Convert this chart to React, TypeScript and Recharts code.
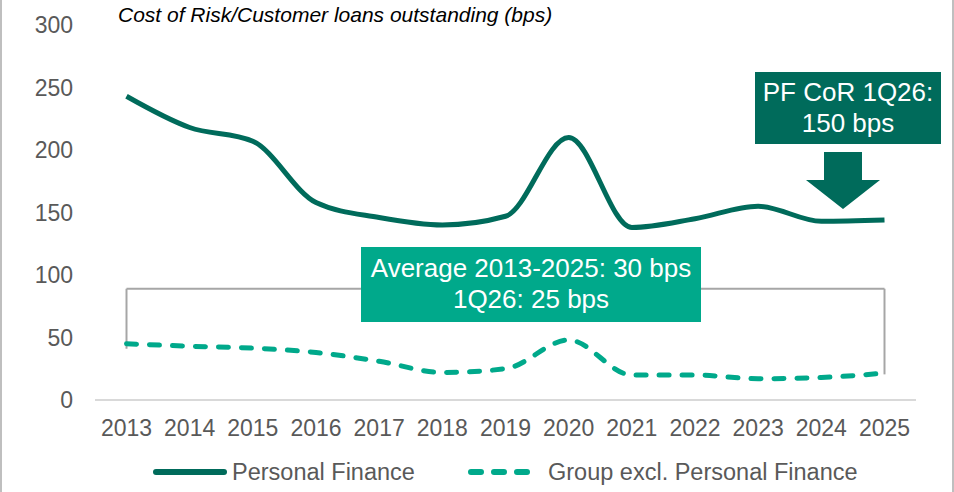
import React from 'react';
import { LineChart, Line, XAxis, YAxis, ReferenceLine, Legend } from 'recharts';

const years = ['2013', '2014', '2015', '2016', '2017', '2018', '2019', '2020', '2021', '2022', '2023', '2024', '2025'];
const personalFinance = [243, 218, 207, 158, 146, 140, 147, 210, 138, 145, 155, 143, 144];
const groupExclPF = [45, 43, 41.5, 38, 31, 22, 25, 48, 20, 20, 17, 18, 21.5];
const yTicks = [0, 50, 100, 150, 200, 250, 300];
const bracketLevel = 89;

const title = 'Cost of Risk/Customer loans outstanding (bps)';
const pfNote = ['PF CoR 1Q26:', '150 bps'];
const avgNote = ['Average 2013-2025: 30 bps', '1Q26: 25 bps'];

const DARK = '#006b5b';
const TEAL = '#00a98b';
const GREY = '#595959';
const FONT = 'Arial, "Liberation Sans", sans-serif';

const data = years.map((year, i) => ({
  year,
  pf: personalFinance[i],
  group: groupExclPF[i],
}));

const legendStart: Record<string, number> = { pf: 153, group: 468 };

function LegendRow({ payload }: any) {
  const items = payload || [];
  return (
    <svg width={954} height={37} style={{ display: 'block' }}>
      {items.map((it: any) => {
        const dashed = it.dataKey === 'group';
        const x0 = legendStart[it.dataKey] ?? 153;
        return (
          <g key={it.value}>
            <line
              x1={x0 + 3}
              x2={x0 + (dashed ? 64 : 71)}
              y1={17}
              y2={17}
              stroke={it.color}
              strokeWidth={6}
              strokeLinecap="round"
              strokeDasharray={dashed ? '10 13' : undefined}
            />
            <text x={x0 + (dashed ? 80 : 79)} y={25} fill={GREY} fontSize={23.5} fontFamily={FONT}>
              {it.value}
            </text>
          </g>
        );
      })}
    </svg>
  );
}

export default function App() {
  const last = years.length - 1;
  return (
    <div style={{ position: 'absolute', left: 0, top: 0, width: 954, height: 492, background: '#fff', fontFamily: FONT }}>
      <div style={{ position: 'absolute', left: 0, top: 0, width: 2, height: 492, background: '#bfbfbf' }} />
      <div style={{ position: 'absolute', left: 952, top: 0, width: 2, height: 492, background: '#bfbfbf' }} />
      <LineChart width={954} height={492} data={data} margin={{ top: 25, right: 38, bottom: 0, left: 0 }}>
        <XAxis
          dataKey="year"
          interval={0}
          height={55}
          padding={{ left: 31.5, right: 31.5 }}
          tickSize={0}
          tickMargin={20}
          tick={{ fill: GREY, fontSize: 23 }}
          axisLine={{ stroke: '#d9d9d9', strokeWidth: 2 }}
        />
        <YAxis
          domain={[0, 300]}
          ticks={yTicks}
          width={95}
          tickSize={0}
          tickMargin={22}
          axisLine={false}
          tickLine={false}
          tick={{ fill: GREY, fontSize: 23 }}
        />
        <ReferenceLine
          segment={[{ x: years[0], y: groupExclPF[0] - 4 }, { x: years[0], y: bracketLevel }]}
          stroke="#a6a6a6"
          strokeWidth={2}
        />
        <ReferenceLine
          segment={[{ x: years[0], y: bracketLevel }, { x: years[last], y: bracketLevel }]}
          stroke="#a6a6a6"
          strokeWidth={2}
        />
        <ReferenceLine
          segment={[{ x: years[last], y: groupExclPF[last] - 1 }, { x: years[last], y: bracketLevel }]}
          stroke="#a6a6a6"
          strokeWidth={2}
        />
        <Line
          type="monotone"
          dataKey="pf"
          name="Personal Finance"
          stroke={DARK}
          strokeWidth={5}
          dot={false}
          isAnimationActive={false}
        />
        <Line
          type="monotone"
          dataKey="group"
          name="Group excl. Personal Finance"
          stroke={TEAL}
          strokeWidth={5}
          strokeDasharray="10 13"
          strokeLinecap="round"
          dot={false}
          isAnimationActive={false}
        />
        <Legend
          verticalAlign="bottom"
          content={<LegendRow />}
          wrapperStyle={{ left: 0, width: 954, bottom: 0, height: 37 }}
        />
      </LineChart>

      <div
        style={{
          position: 'absolute',
          left: 118,
          top: 3,
          fontSize: 21,
          fontStyle: 'italic',
          color: '#000',
          whiteSpace: 'nowrap',
        }}
      >
        {title}
      </div>

      <div
        style={{
          position: 'absolute',
          left: 755,
          top: 72,
          width: 186,
          height: 72,
          background: DARK,
          color: '#fff',
          fontSize: 26,
          lineHeight: '31px',
          textAlign: 'center',
          paddingTop: 5,
          boxSizing: 'border-box',
        }}
      >
        {pfNote.map((t) => (
          <div key={t}>{t}</div>
        ))}
      </div>

      <svg style={{ position: 'absolute', left: 0, top: 0 }} width={954} height={492} pointerEvents="none">
        <polygon points="824,152 862,152 862,180 880,180 843,209 806,180 824,180" fill={DARK} />
      </svg>

      <div
        style={{
          position: 'absolute',
          left: 361,
          top: 247,
          width: 340,
          height: 75,
          background: TEAL,
          color: '#fff',
          fontSize: 26,
          lineHeight: '31px',
          textAlign: 'center',
          paddingTop: 6,
          boxSizing: 'border-box',
        }}
      >
        {avgNote.map((t) => (
          <div key={t}>{t}</div>
        ))}
      </div>
    </div>
  );
}
